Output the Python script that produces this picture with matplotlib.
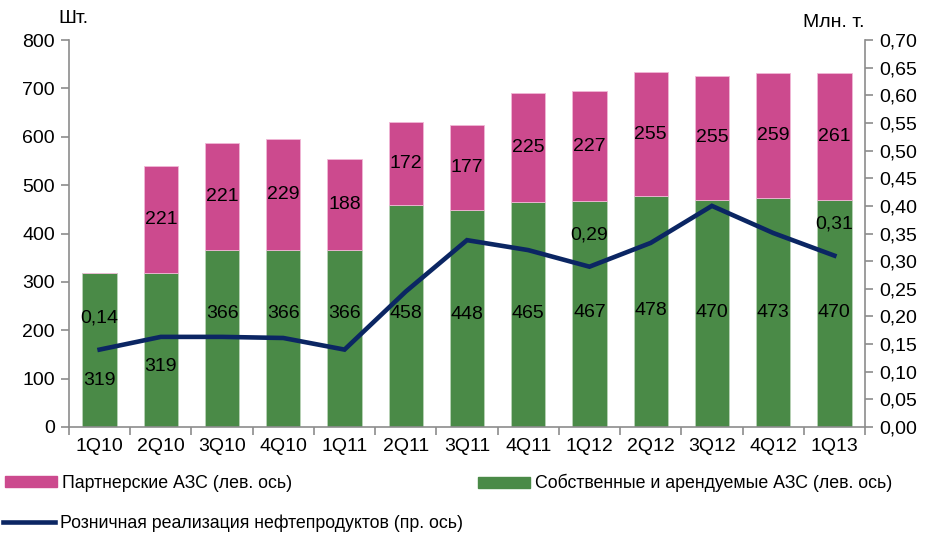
import numpy as np
import matplotlib.pyplot as plt
from matplotlib.patches import Patch
from matplotlib.lines import Line2D

plt.rcParams['font.family'] = ['Liberation Sans Narrow', 'Liberation Sans', 'DejaVu Sans']

quarters = ['1Q10', '2Q10', '3Q10', '4Q10', '1Q11', '2Q11', '3Q11', '4Q11',
            '1Q12', '2Q12', '3Q12', '4Q12', '1Q13']
own = [319, 319, 366, 366, 366, 458, 448, 465, 467, 478, 470, 473, 470]
partner = [0, 221, 221, 229, 188, 172, 177, 225, 227, 255, 255, 259, 261]
retail = [0.14, 0.163, 0.163, 0.161, 0.14, 0.245, 0.338, 0.32, 0.29, 0.333, 0.40, 0.351, 0.31]
retail_labels = {0: '0,14', 8: '0,29', 12: '0,31'}

# where the green value labels sit (left axis units)
own_label_y = [97, 126, 235, 235, 235, 235, 233, 234, 236, 240, 236, 236, 236]

pink = '#CC4A8E'
green = '#4A8A47'
navy = '#0B2663'
grey = '#8C8C8C'

fig = plt.figure(figsize=(9.26, 5.34), dpi=100)
ax = fig.add_axes([0.0745, 0.2004, 0.8596, 0.7246])
ax2 = ax.twinx()

x = np.arange(len(quarters))
w = 0.56
ax.bar(x, own, w, color=green, edgecolor='#B9D3B7', linewidth=0.6, zorder=2)
ax.bar(x, partner, w, bottom=own, color=pink, edgecolor='#F0B8D6', linewidth=0.6, zorder=2)

for i in range(len(x)):
    ax.text(x[i], own_label_y[i], str(own[i]), ha='center', va='center', fontsize=14, zorder=5)
    if partner[i]:
        ax.text(x[i], own[i] + partner[i] / 2, str(partner[i]), ha='center', va='center',
                fontsize=14, zorder=5)

ax2.plot(x, retail, color=navy, lw=3.3, solid_joinstyle='miter', zorder=4)
for i, t in retail_labels.items():
    ax2.text(x[i], retail[i] + 0.057, t, ha='center', va='center', fontsize=14)

ax.set_xlim(-0.5, len(x) - 0.5)
ax.set_ylim(0, 800)
ax.set_yticks(range(0, 801, 100))
ax2.set_ylim(0, 0.70)
ticks_r = np.arange(0, 0.701, 0.05)
ax2.set_yticks(ticks_r)
ax2.set_yticklabels([('%.2f' % v).replace('.', ',') for v in ticks_r])

ax.set_xticks(x)
ax.set_xticklabels(quarters)
ax.set_xticks(np.arange(-0.5, len(x)), minor=True)
ax.tick_params(axis='x', which='major', length=0, pad=8, labelsize=14)
ax.tick_params(axis='x', which='minor', length=6, color=grey, width=1.2, direction='out')
ax.tick_params(axis='y', length=6, color=grey, width=1.2, labelsize=14, pad=4)
ax2.tick_params(axis='y', length=6, color=grey, width=1.2, labelsize=14, pad=4)

for a in (ax, ax2):
    a.spines['top'].set_visible(False)
    for s in ('left', 'right', 'bottom'):
        a.spines[s].set_color(grey)
        a.spines[s].set_linewidth(1.2)
ax.spines['right'].set_visible(False)
ax2.spines['left'].set_visible(False)
ax2.spines['bottom'].set_visible(False)

fig.text(0.063, 0.965, 'Шт.', fontsize=14, ha='left', va='center')
fig.text(0.934, 0.958, 'Млн. т.', fontsize=14, ha='right', va='center')

leg_kw = dict(frameon=False, fontsize=12.75, handlelength=2.93, handleheight=0.57,
              handletextpad=0.28, borderaxespad=0, borderpad=0)
fig.legend(handles=[Patch(color=pink, label='Партнерские АЗС (лев. ось)')],
           loc='center left', bbox_to_anchor=(0.0054, 0.095), **leg_kw)
fig.legend(handles=[Patch(color=green, label='Собственные и арендуемые АЗС (лев. ось)')],
           loc='center left', bbox_to_anchor=(0.516, 0.095), **leg_kw)
fig.legend(handles=[Line2D([], [], color=navy, lw=3.3,
                           label='Розничная реализация нефтепродуктов (пр. ось)')],
           loc='center left', bbox_to_anchor=(0.0032, 0.021), **leg_kw)

fig.savefig('out.png', dpi=100)
